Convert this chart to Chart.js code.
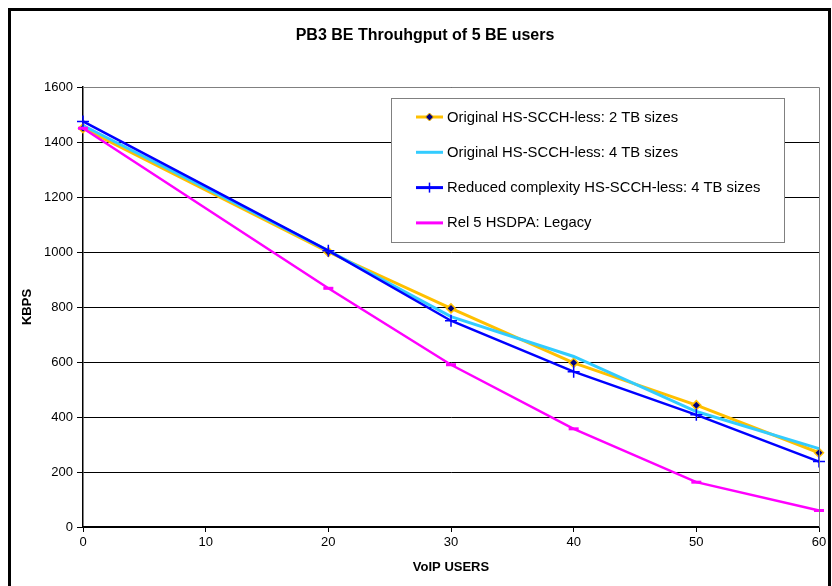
<!DOCTYPE html>
<html>
<head>
<meta charset="utf-8">
<title>PB3 BE Throughput</title>
<script src="https://cdn.jsdelivr.net/npm/chart.js@4/dist/chart.umd.min.js"></script>
<style>
  html, body { margin: 0; padding: 0; background: #fff; }
  #wrap { width: 832px; height: 586px; position: relative; }
</style>
</head>
<body>
<div id="wrap"><canvas id="chart" width="832" height="586"></canvas></div>
<script>
// Chart data
const chartTitle = "PB3 BE Throuhgput of 5 BE users"
const voipUsers = [0, 20, 30, 40, 50, 60]
const seriesNames = [
  "Original HS-SCCH-less: 2 TB sizes",
  "Original HS-SCCH-less: 4 TB sizes",
  "Reduced complexity HS-SCCH-less: 4 TB sizes",
  "Rel 5 HSDPA: Legacy",
]
const orig2TB = [1450, 1000, 795, 597, 443, 270]
const orig4TB = [1460, 1005, 765, 620, 420, 285]
const reduced4TB = [1475, 1005, 750, 565, 408, 238]
const rel5Legacy = [1450, 868, 590, 357, 163, 60]
const xTicks = [0, 10, 20, 30, 40, 50, 60]
const yTicks = [0, 200, 400, 600, 800, 1000, 1200, 1400, 1600]

const FONT = "'Liberation Sans', Arial, sans-serif"

const toPoints = (vals) => vals.map((v, i) => ({ x: voipUsers[i], y: v }))

// frame, title and boxed legend drawn on the canvas
const decorPlugin = {
  id: "decor",
  afterDraw(chart) {
    const ctx = chart.ctx
    const area = chart.chartArea
    ctx.save()

    // plot area border (grey)
    ctx.strokeStyle = "#808080"
    ctx.lineWidth = 1
    ctx.beginPath()
    ctx.moveTo(area.left, area.top + 0.5)
    ctx.lineTo(area.right + 0.5, area.top + 0.5)
    ctx.lineTo(area.right + 0.5, area.bottom)
    ctx.stroke()

    // outer frame
    ctx.strokeStyle = "#000"
    ctx.lineWidth = 3
    ctx.beginPath()
    ctx.moveTo(9.5, 600)
    ctx.lineTo(9.5, 9.5)
    ctx.lineTo(829.5, 9.5)
    ctx.lineTo(829.5, 600)
    ctx.stroke()

    // title
    ctx.fillStyle = "#000"
    ctx.font = "bold 16px " + FONT
    ctx.textAlign = "center"
    ctx.textBaseline = "middle"
    ctx.fillText(chartTitle, 425, 36)

    // legend box
    const box = { left: 391, top: 98, right: 784, bottom: 242 }
    ctx.fillStyle = "#fff"
    ctx.fillRect(box.left, box.top, box.right - box.left, box.bottom - box.top)
    ctx.strokeStyle = "#808080"
    ctx.lineWidth = 1
    ctx.strokeRect(box.left + 0.5, box.top + 0.5, box.right - box.left, box.bottom - box.top)

    chart.data.datasets.forEach((ds, i) => {
      const y = 117 + i * 35.3
      ctx.strokeStyle = ds.borderColor
      ctx.lineWidth = 3
      ctx.beginPath()
      ctx.moveTo(416, y)
      ctx.lineTo(443, y)
      ctx.stroke()
      if (ds.legendMarker === "diamond") {
        ctx.fillStyle = ds.pointBackgroundColor
        ctx.strokeStyle = ds.pointBorderColor
        ctx.lineWidth = 1
        ctx.beginPath()
        ctx.moveTo(429.5, y - 4)
        ctx.lineTo(433.5, y)
        ctx.lineTo(429.5, y + 4)
        ctx.lineTo(425.5, y)
        ctx.closePath()
        ctx.fill()
        ctx.stroke()
      } else if (ds.legendMarker === "cross") {
        ctx.strokeStyle = ds.pointBorderColor
        ctx.lineWidth = 1.5
        ctx.beginPath()
        ctx.moveTo(429.5, y - 5)
        ctx.lineTo(429.5, y + 5)
        ctx.stroke()
      }
      ctx.fillStyle = "#000"
      ctx.font = "14.8px " + FONT
      ctx.textAlign = "left"
      ctx.textBaseline = "middle"
      ctx.fillText(ds.label, 447, y + 0.5)
    })

    ctx.restore()
  },
}

const ctx = document.getElementById("chart").getContext("2d")

new Chart(ctx, {
  type: "line",
  data: {
    datasets: [
      {
        label: seriesNames[0],
        data: toPoints(orig2TB),
        borderColor: "#FFC000",
        borderWidth: 3,
        pointStyle: "rectRot",
        pointRadius: 4.5,
        pointBackgroundColor: "#000080",
        pointBorderColor: "#FFC000",
        pointBorderWidth: 1.5,
        legendMarker: "diamond",
        clip: false,
        order: 4,
      },
      {
        label: seriesNames[1],
        data: toPoints(orig4TB),
        borderColor: "#33CCFF",
        borderWidth: 3,
        pointRadius: 0,
        clip: false,
        order: 3,
      },
      {
        label: seriesNames[2],
        data: toPoints(reduced4TB),
        borderColor: "#0000FF",
        borderWidth: 2.5,
        pointStyle: "cross",
        pointRadius: 6,
        pointBorderColor: "#0000FF",
        pointBorderWidth: 1.5,
        legendMarker: "cross",
        clip: false,
        order: 2,
      },
      {
        label: seriesNames[3],
        data: toPoints(rel5Legacy),
        borderColor: "#FF00FF",
        borderWidth: 2.5,
        pointStyle: "line",
        pointRadius: 5,
        pointBorderColor: "#FF00FF",
        pointBorderWidth: 3,
        clip: false,
        order: 1,
      },
    ],
  },
  options: {
    responsive: false,
    animation: false,
    layout: { padding: { left: 0, right: 13, top: 87, bottom: 0 } },
    plugins: {
      legend: { display: false },
      title: { display: false },
      tooltip: { enabled: false },
    },
    scales: {
      x: {
        type: "linear",
        min: 0,
        max: 60,
        afterBuildTicks: (scale) => { scale.ticks = xTicks.map((v) => ({ value: v })) },
        afterFit: (scale) => { scale.height = 59 },
        grid: { drawOnChartArea: false, color: "#000", tickLength: 5, tickWidth: 1 },
        border: { color: "#000", width: 1.5 },
        ticks: { color: "#000", font: { family: FONT, size: 13 }, padding: 3, callback: (v) => String(v) },
        title: {
          display: true,
          text: "VoIP USERS",
          color: "#000",
          font: { family: FONT, size: 13, weight: "bold" },
          padding: { top: 0, bottom: 11 },
        },
      },
      y: {
        min: 0,
        max: 1600,
        afterBuildTicks: (scale) => { scale.ticks = yTicks.map((v) => ({ value: v })) },
        afterFit: (scale) => { scale.width = 83 },
        grid: { color: "#000", lineWidth: 1, tickLength: 6 },
        border: { color: "#000", width: 1.5 },
        ticks: { color: "#000", font: { family: FONT, size: 13 }, padding: 4, callback: (v) => String(v) },
        title: {
          display: true,
          text: "KBPS",
          color: "#000",
          font: { family: FONT, size: 13, weight: "bold" },
          padding: { top: 20, bottom: 0 },
        },
      },
    },
  },
  plugins: [decorPlugin],
})
</script>
</body>
</html>
